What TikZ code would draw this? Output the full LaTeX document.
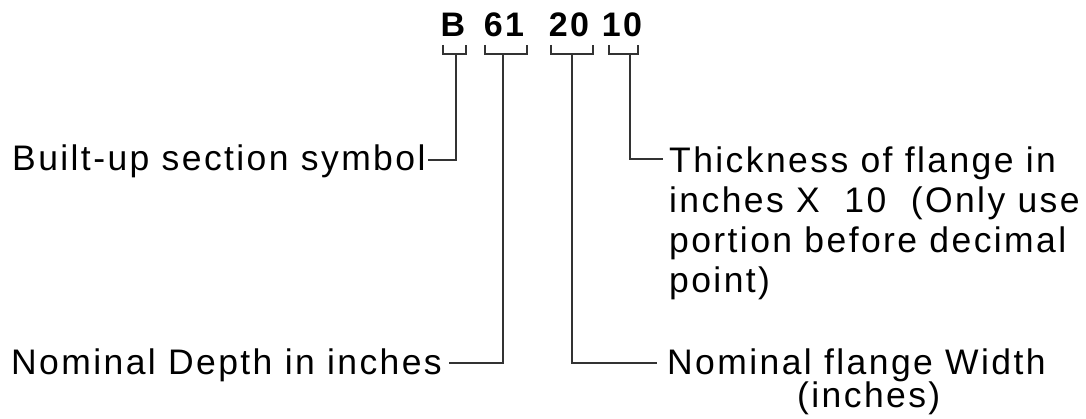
\documentclass[tikz,border=0pt]{standalone}
\usepackage{fontspec}
\setmainfont{Liberation Sans}[LetterSpace=6.8]
\begin{document}
\begin{tikzpicture}[x=1pt,y=-1pt,
  lbl/.style={anchor=base west,inner sep=0pt,font=\fontsize{35.5}{40}\selectfont},
  code/.style={anchor=base,inner sep=0pt,font=\fontsize{34}{40}\selectfont\bfseries},
  ln/.style={line width=2pt,draw=black!80,line cap=butt,line join=miter}]
\useasboundingbox (0,0) rectangle (1086,419);
% code
\node[code] (cB) at (453,37) {B};
\node[code] (c61) at (504,37) {61};
\node[code] (c20) at (569,37) {20};
\node[code] (c10) at (622,37) {10};
% labels
\node[lbl] (lB) at (12,171) {Built-up section symbol};
\node[lbl] (lT1) at (669,173) {Thickness of flange in};
\node[lbl] (lT2) at (669,213) {inches X\ \ 10\ \ (Only use};
\node[lbl] (lT3) at (669,253) {portion before decimal};
\node[lbl] (lT4) at (669,293) {point)};
\node[lbl] (lD) at (11,374) {Nominal Depth in inches};
\node[lbl] (lW1) at (667,374) {Nominal flange Width};
\node[lbl] (lW2) at (797,407) {(inches)};
% bracket coordinates
\coordinate (bB) at (456,54);
\coordinate (b61) at (503,54);
\coordinate (b20) at (572,54);
\coordinate (b10) at (630,54);
\coordinate (eB) at (428,160);
\coordinate (eT) at (663,159);
\coordinate (eD) at (449,363);
\coordinate (eW) at (657,363);
% brackets
\draw[ln] (443,45) -- (443,54) -- (466,54) -- (466,45);
\draw[ln] (485,45) -- (485,54) -- (527,54) -- (527,45);
\draw[ln] (551,45) -- (551,54) -- (593,54) -- (593,45);
\draw[ln] (609,45) -- (609,54) -- (638,54) -- (638,45);
% leaders
\draw[ln] (bB) |- (eB);
\draw[ln] (b61) |- (eD);
\draw[ln] (b20) |- (eW);
\draw[ln] (b10) |- (eT);
\end{tikzpicture}
\end{document}
